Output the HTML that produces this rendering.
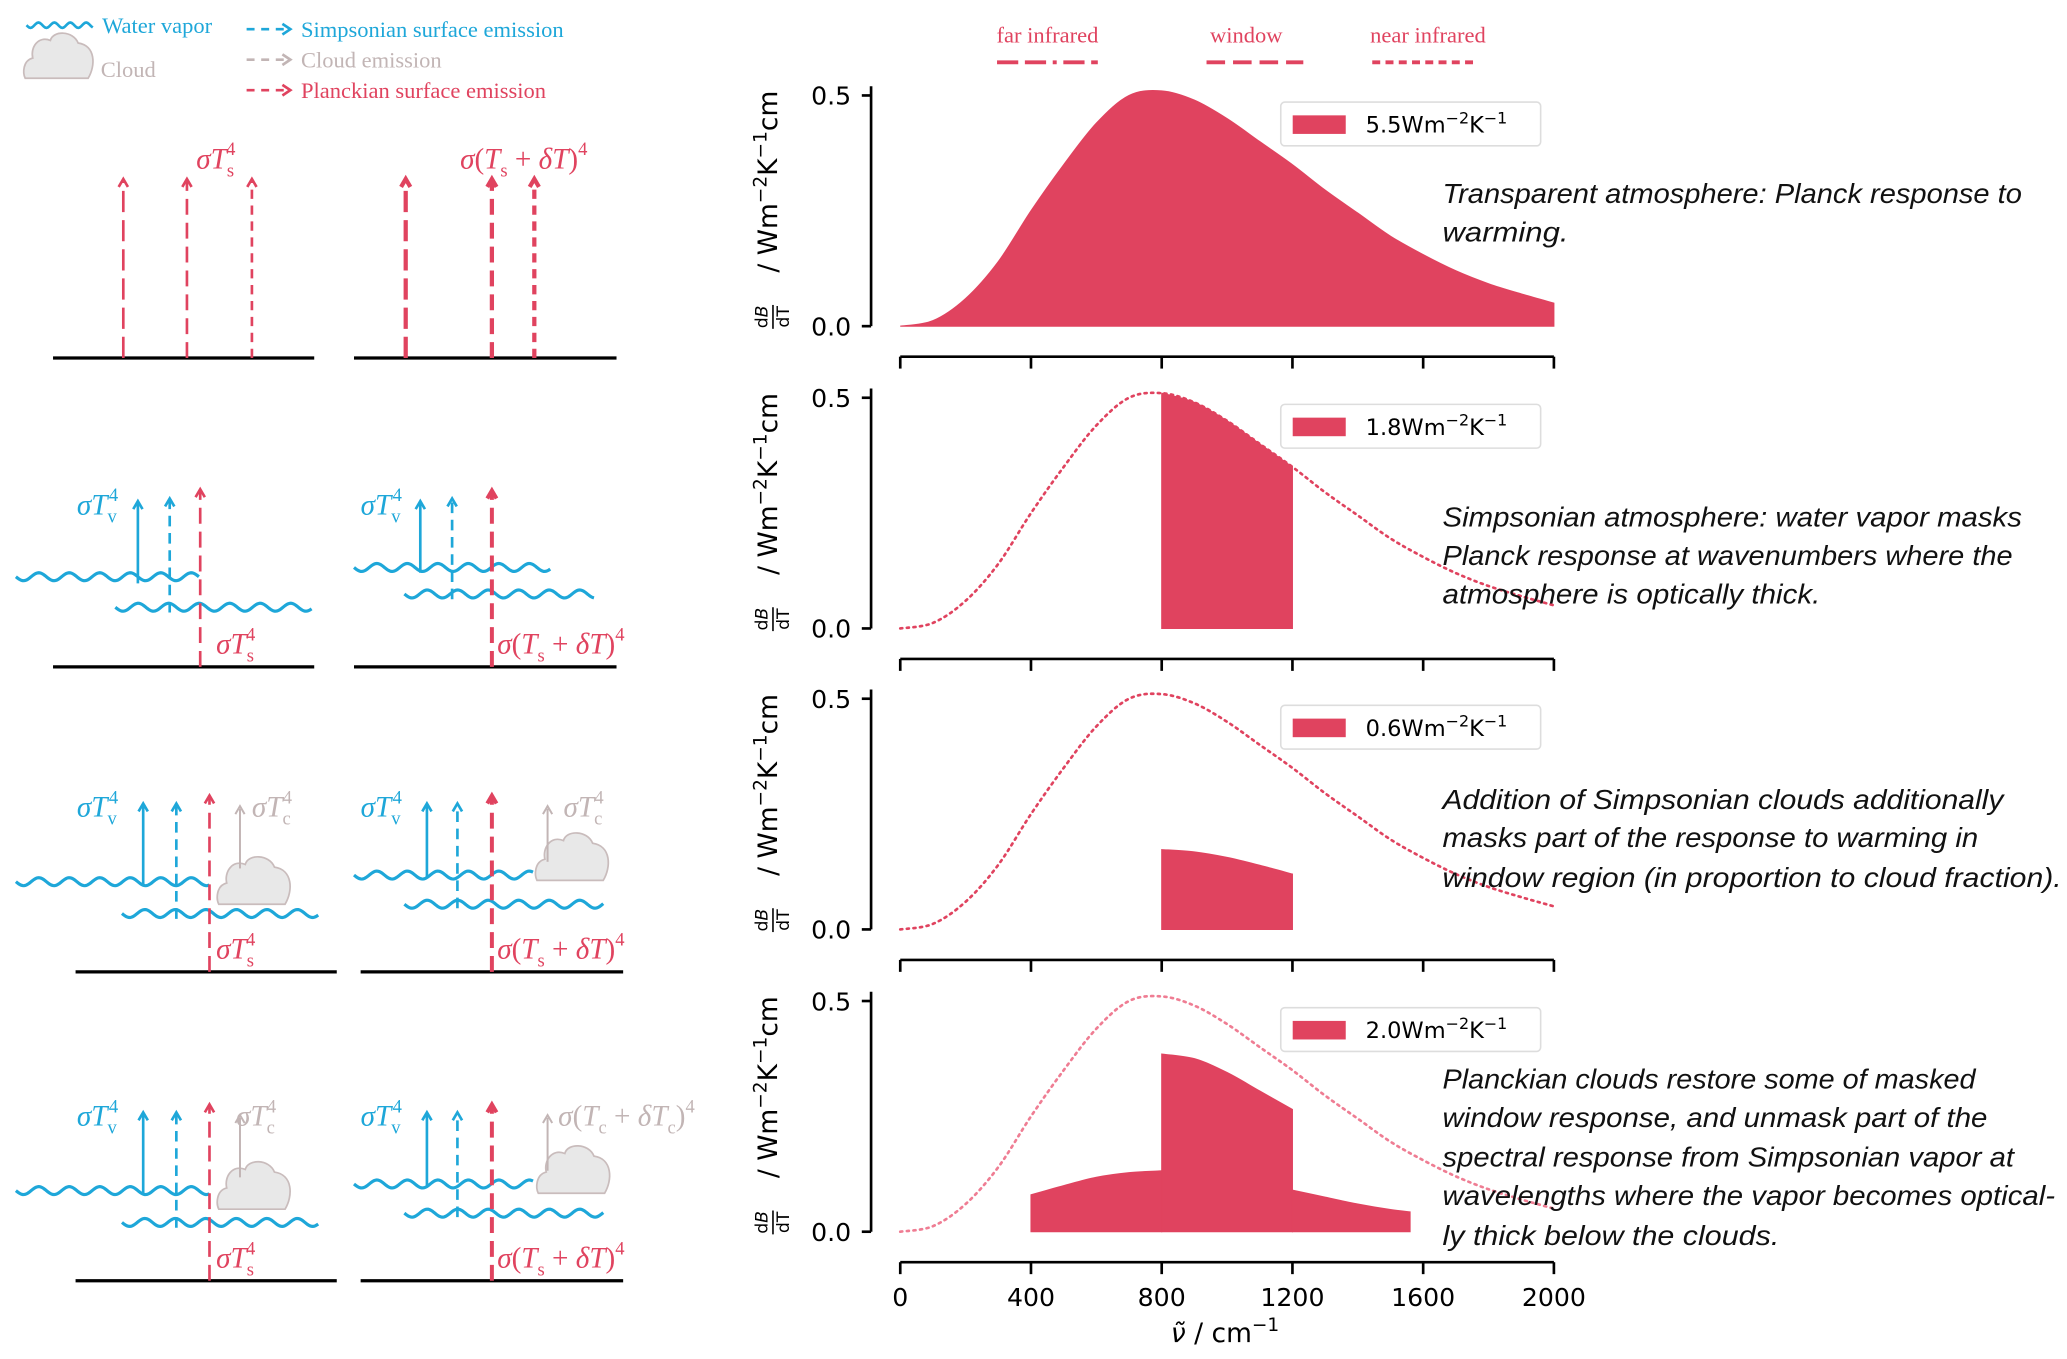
<!DOCTYPE html>
<html><head><meta charset="utf-8"><style>
html,body{margin:0;padding:0;background:#fff;}
svg{display:block;}
.ser{font-family:"Liberation Serif",serif;}
.it{font-style:italic;}
.sans{font-family:"DejaVu Sans","Liberation Sans",sans-serif;}
.desc{font-family:"Liberation Sans",sans-serif;font-style:italic;font-size:21px;fill:#111;}
</style></head><body>
<svg id="fig" width="2067" height="1359" viewBox="0 0 1559 1025" xmlns="http://www.w3.org/2000/svg">
<g id="left"></g>
<g id="right"></g>
</svg>
<script>
// ---- chart data ----
const nuGrid = [0,100,200,300,400,500,600,700,800,900,1000,1100,1200,1300,1400,1500,1600,1700,1800,1900,2000];
const planckResp = [0,0.012,0.06,0.14,0.25,0.35,0.44,0.50,0.51,0.49,0.45,0.40,0.35,0.295,0.245,0.195,0.155,0.12,0.092,0.07,0.05];
const windowNu = [800,900,1000,1100,1200];
const simpWindow = [0.51,0.49,0.45,0.40,0.35];
const cloudWindow = [0.173,0.168,0.156,0.139,0.12];
const farNu = [400,500,600,700,800];
const planckFar = [0.08,0.10,0.118,0.128,0.132];
const planckWindow = [0.385,0.375,0.345,0.305,0.265];
const nearNu = [1200,1300,1400,1500,1560];
const planckNear = [0.09,0.075,0.06,0.048,0.043];
const feedbacks = ["5.5","1.8","0.6","2.0"];
const xTicks = [0,400,800,1200,1600,2000];
const yTicks = [0.0,0.5];

const NS="http://www.w3.org/2000/svg";
const RED="#e0435f", BLUE="#1ea7d9", GRAY="#c2b5b5";
function mk(tag,attrs,parent){const e=document.createElementNS(NS,tag);for(const k in attrs)e.setAttribute(k,attrs[k]);if(parent)parent.appendChild(e);return e;}
const L=document.getElementById('left'), R=document.getElementById('right');

// ---- axis functions ----
const bases=[246,474,701,929];
function X(v){return 679+v*(1172-679)/2000;}
function Y(p,val){return bases[p]-val*348;}
function smooth(pts){
  let d="M"+pts[0][0]+","+pts[0][1];
  for(let i=0;i<pts.length-1;i++){
    const p0=pts[Math.max(0,i-1)],p1=pts[i],p2=pts[i+1],p3=pts[Math.min(pts.length-1,i+2)];
    const c1=[p1[0]+(p2[0]-p0[0])/6,p1[1]+(p2[1]-p0[1])/6];
    const c2=[p2[0]-(p3[0]-p1[0])/6,p2[1]-(p3[1]-p1[1])/6];
    d+=" C"+c1[0]+","+c1[1]+" "+c2[0]+","+c2[1]+" "+p2[0]+","+p2[1];
  }
  return d;
}
function areaPath(p,nus,vals){
  const pts=nus.map((n,i)=>[X(n),Y(p,vals[i])]);
  return smooth(pts)+" L"+X(nus[nus.length-1])+","+Y(p,0)+" L"+X(nus[0])+","+Y(p,0)+" Z";
}
function linePath(p,nus,vals){return smooth(nus.map((n,i)=>[X(n),Y(p,vals[i])]));}

// ---- top band labels ----
const bands=[["far infrared",790,752,828,"16 5 16 5 3 5"],["window",940,910,983,"14 6"],["near infrared",1077,1035,1113,"6 4"]];
bands.forEach(b=>{
  const t=mk('text',{x:b[1],y:32,'text-anchor':'middle',class:'ser','font-size':17,fill:RED},R);t.textContent=b[0];
  
  
  const l=mk('line',{x1:b[2],x2:b[3],y1:47,y2:47,stroke:RED,'stroke-width':3,'stroke-dasharray':b[4]},R);
  
  
});

const descs=[
 [[146,"Transparent atmosphere: Planck response to",437],[175,"warming.",95]],
 [[390,"Simpsonian atmosphere: water vapor masks",437],[419,"Planck response at wavenumbers where the",430],[448,"atmosphere is optically thick.",285]],
 [[603,"Addition of Simpsonian clouds additionally",423],[632,"masks part of the response to warming in",404],[662,"window region (in proportion to cloud fraction).",467]],
 [[814,"Planckian clouds restore some of masked",402],[843,"window response, and unmask part of the",411],[873,"spectral response from Simpsonian vapor at",431],[902,"wavelengths where the vapor becomes optical-",462],[932,"ly thick below the clouds.",254]]
];

for(let p=0;p<4;p++){
  const g=mk('g',{},R);
  
  
  if(p>0){
    const c=mk('path',{d:linePath(p,nuGrid,planckResp),fill:'none',stroke:p===3?'#ef7d93':RED,'stroke-width':2,'stroke-dasharray':'1.6 3.4','stroke-linecap':'round'},g);
    
    
  }
  const fills=[];
  if(p===0) fills.push([nuGrid,planckResp]);
  if(p===1) fills.push([windowNu,simpWindow]);
  if(p===2) fills.push([windowNu,cloudWindow]);
  if(p===3){fills.push([farNu,planckFar]);fills.push([windowNu,planckWindow]);fills.push([nearNu,planckNear]);}
  fills.forEach(f=>{
    const a=mk('path',{d:areaPath(p,f[0],f[1]),fill:RED,stroke:RED,'stroke-width':0.8},g);
    
    
  });
  const ya=mk('line',{x1:657,x2:657,y1:Y(p,0.52),y2:Y(p,0),stroke:'#000','stroke-width':2},g);
  
  
  yTicks.forEach(v=>{
    mk('line',{x1:650,x2:657,y1:Y(p,v),y2:Y(p,v),stroke:'#000','stroke-width':2},g);
    const t=mk('text',{x:642,y:Y(p,v)+7,'text-anchor':'end',class:'sans','font-size':19,fill:'#000'},g);
    t.textContent=v.toFixed(1);
    
    
  });
  const cy=(Y(p,0.5)+Y(p,0))/2;
  const yl=mk('g',{transform:`translate(586,${cy-8}) rotate(-90)`},g);
  
  
  const t1=mk('text',{x:14,y:0,'text-anchor':'middle',class:'sans','font-size':20,fill:'#000'},yl);
  t1.innerHTML='/ Wm<tspan dy="-8" font-size="14">−2</tspan><tspan dy="8">K</tspan><tspan dy="-8" font-size="14">−1</tspan><tspan dy="8">cm</tspan>';
  const fr=mk('text',{x:-88,y:-7,'text-anchor':'middle',class:'sans','font-size':13,fill:'#000'},yl);fr.innerHTML='d<tspan font-style="italic">B</tspan>';
  mk('line',{x1:-97,x2:-79,y1:-3,y2:-3,stroke:'#000','stroke-width':1.2},yl);
  const fr2=mk('text',{x:-88,y:9,'text-anchor':'middle',class:'sans','font-size':13,fill:'#000'},yl);fr2.textContent='dT';
  const xy=bases[p]+23;
  const xa=mk('line',{x1:679,x2:1172,y1:xy,y2:xy,stroke:'#000','stroke-width':2},g);
  
  
  xTicks.forEach(v=>{
    mk('line',{x1:X(v),x2:X(v),y1:xy,y2:xy+9,stroke:'#000','stroke-width':2},g);
    if(p===3){
      const t=mk('text',{x:X(v),y:xy+33,'text-anchor':'middle',class:'sans','font-size':19,fill:'#000'},g);
      t.textContent=v;
      
      
    }
  });
  const ly=77+[0,228,455,683][p];
  const lg=mk('g',{},g);
  
  
  mk('rect',{x:966,y:ly,width:196,height:33,rx:3,fill:'#fff',stroke:'#ddd','stroke-width':1.2},lg);
  mk('rect',{x:975,y:ly+10,width:40,height:14,fill:RED},lg);
  const lt=mk('text',{x:1030,y:ly+23,class:'sans','font-size':17,fill:'#000'},lg);
  lt.innerHTML=feedbacks[p]+'Wm<tspan dy="-7" font-size="12">−2</tspan><tspan dy="7">K</tspan><tspan dy="-7" font-size="12">−1</tspan>';
  descs[p].forEach(d=>{
    const t=mk('text',{x:1088,y:d[0]+7,class:'desc',textLength:d[2],lengthAdjust:'spacingAndGlyphs'},g);
    t.textContent=d[1];
    
    
  });
}
const xt=mk('text',{x:924,y:1012,'text-anchor':'middle',class:'sans','font-size':20,fill:'#000'},R);
xt.innerHTML='<tspan font-style="italic">ν̃</tspan> / cm<tspan dy="-8" font-size="14">−1</tspan>';



// ---- left schematic ----
function wave(x1,x2,y,parent){
  let d="M"+x1+","+y;
  for(let x=x1+1;x<=x2;x+=1){d+=" L"+x+","+(y+3*Math.sin((x-x1)/23*2*Math.PI)).toFixed(2);}
  const w=mk('path',{d:d,fill:'none',stroke:BLUE,'stroke-width':2.4},parent);
  
  
}
function arrow(x,y1,y2,color,dash,w,parent){
  const l=mk('line',{x1:x,x2:x,y1:y1,y2:y2+2,stroke:color,'stroke-width':w,'stroke-dasharray':dash},parent);
  
  
  mk('path',{d:`M${x-3.5},${y2+6} L${x},${y2} L${x+3.5},${y2+6}`,fill:'none',stroke:color,'stroke-width':w},parent);
}
function cloud(x,y,s,parent){
  const c=mk('path',{d:`M${x},${y} L${x+50*s},${y} C${x+56*s},${y-10*s} ${x+56*s},${y-26*s} ${x+42*s},${y-28*s} C${x+38*s},${y-38*s} ${x+22*s},${y-38*s} ${x+20*s},${y-30*s} C${x+10*s},${y-34*s} ${x+4*s},${y-24*s} ${x+6*s},${y-16*s} C${x-2*s},${y-14*s} ${x-2*s},${y-4*s} ${x},${y} Z`,fill:'#e8e8e8',stroke:'#c9bcbc','stroke-width':1.3},parent);
  
  
}
function ground(x1,x2,y,parent){
  const g=mk('line',{x1:x1,x2:x2,y1:y,y2:y,stroke:'#000','stroke-width':2.5},parent);
  
  
}
function mathText(x,y,html,color,parent,name){
  const t=mk('text',{x:x,y:y,class:'ser','font-size':22,fill:color},parent);
  t.innerHTML=html;
  
  
}
const sub=(b,s)=>`<tspan font-style="italic">σT</tspan><tspan dy="6" font-size="14">${s}</tspan><tspan dy="-16" dx="-6" font-size="14">4</tspan>`;
const sTs=sub('T','s'), sTv=sub('T','v'), sTc=sub('T','c');
const sTsdT='<tspan font-style="italic">σ</tspan>(<tspan font-style="italic">T</tspan><tspan dy="6" font-size="14">s</tspan><tspan dy="-6"> + </tspan><tspan font-style="italic">δT</tspan>)<tspan dy="-10" font-size="14">4</tspan>';
const sTcdT='<tspan font-style="italic">σ</tspan>(<tspan font-style="italic">T</tspan><tspan dy="6" font-size="14">c</tspan><tspan dy="-6"> + </tspan><tspan font-style="italic">δT</tspan><tspan dy="6" font-size="14">c</tspan><tspan dy="-6">)</tspan><tspan dy="-10" font-size="14">4</tspan>';

const lgd=mk('g',{},L);


(function(){
  let d="M20,19";for(let x=21;x<=70;x++)d+=" L"+x+","+(19+2*Math.sin((x-20)/12*2*Math.PI)).toFixed(2);
  mk('path',{d:d,fill:'none',stroke:BLUE,'stroke-width':2},lgd);
  const a=mk('text',{x:77,y:25,class:'ser','font-size':17,fill:BLUE},lgd);a.textContent='Water vapor';
  cloud(19,59,0.95,lgd);
  const b=mk('text',{x:76,y:58,class:'ser','font-size':17,fill:GRAY},lgd);b.textContent='Cloud';
  [[22,BLUE,'Simpsonian surface emission'],[45,GRAY,'Cloud emission'],[68,RED,'Planckian surface emission']].forEach(r=>{
    mk('line',{x1:186,x2:218,y1:r[0],y2:r[0],stroke:r[1],'stroke-width':2,'stroke-dasharray':'6 5'},lgd);
    mk('path',{d:`M213,${r[0]-4} L219,${r[0]} L213,${r[0]+4}`,fill:'none',stroke:r[1],'stroke-width':2},lgd);
    const t=mk('text',{x:227,y:r[0]+6,class:'ser','font-size':17,fill:r[1]},lgd);t.textContent=r[2];
  });
})();

const r1=mk('g',{},L);


ground(40,237,270,r1);ground(267,465,270,r1);
arrow(93,270,135,RED,'16 6',2,r1);arrow(141,270,135,RED,'12 6',2,r1);arrow(190,270,135,RED,'7 5',2,r1);
mathText(148,127,sTs,RED,r1,'surface-emission-label');
arrow(306,270,135,RED,'16 6',3.2,r1);arrow(371,270,135,RED,'12 6',3.2,r1);arrow(403,270,135,RED,'7 5',3.2,r1);
mathText(347,127,sTsdT,RED,r1,'warmed-emission-label');

const r2=mk('g',{},L);


ground(40,237,503,r2);ground(267,465,503,r2);
wave(12,150,435,r2);wave(87,235,458,r2);
arrow(104,440,378,BLUE,'none',2,r2);arrow(128,462,376,BLUE,'8 5',2,r2);arrow(151,503,369,RED,'12 6',2,r2);
mathText(58,388,sTv,BLUE,r2,'vapor-emission-label');mathText(163,493,sTs,RED,r2,'surface-emission-label');
wave(267,415,428,r2);wave(305,448,448,r2);
arrow(317,432,378,BLUE,'none',2,r2);arrow(341,452,376,BLUE,'8 5',2,r2);arrow(371,503,370,RED,'12 6',3,r2);
mathText(272,388,sTv,BLUE,r2,'vapor-emission-label');mathText(375,493,sTsdT,RED,r2,'warmed-emission-label');

function cloudRow(dy,rightLabel,name,lcx,lcy,rcx,rcy){
  const g=mk('g',{},L);
  
  
  ground(57,254,733+dy,g);ground(272,470,733+dy,g);
  cloud(lcx,lcy,1.0,g);
  wave(12,158,665+dy,g);wave(92,240,689+dy,g);
  arrow(108,668+dy,606+dy,BLUE,'none',2,g);arrow(133,693+dy,606+dy,BLUE,'8 5',2,g);arrow(158,733+dy,600+dy,RED,'12 6',2,g);
  arrow(181,655+dy,608+dy,GRAY,'none',1.5,g);
  mathText(58,616+dy,sTv,BLUE,g,'vapor-emission-label');
  mathText(dy?178:190,616+dy,sTc,GRAY,g,'cloud-emission-label');
  mathText(163,723+dy,sTs,RED,g,'surface-emission-label');
  cloud(rcx,rcy,1.0,g);
  wave(267,402,660+dy,g);wave(305,455,682+dy,g);
  arrow(322,662+dy,606+dy,BLUE,'none',2,g);arrow(345,685+dy,606+dy,BLUE,'8 5',2,g);arrow(371,733+dy,600+dy,RED,'12 6',3,g);
  arrow(413,650+dy,608+dy,GRAY,'none',1.5,g);
  mathText(272,616+dy,sTv,BLUE,g,'vapor-emission-label');
  mathText(dy?421:425,616+dy,rightLabel,GRAY,g,'cloud-emission-label');
  mathText(375,723+dy,sTsdT,RED,g,'warmed-emission-label');
}
cloudRow(0,sTc,'simpsonian-cloud-schematic',165,682,405,664);
cloudRow(233,sTcdT,'planckian-cloud-schematic',165,912,406,900);
</script>
</body></html>
